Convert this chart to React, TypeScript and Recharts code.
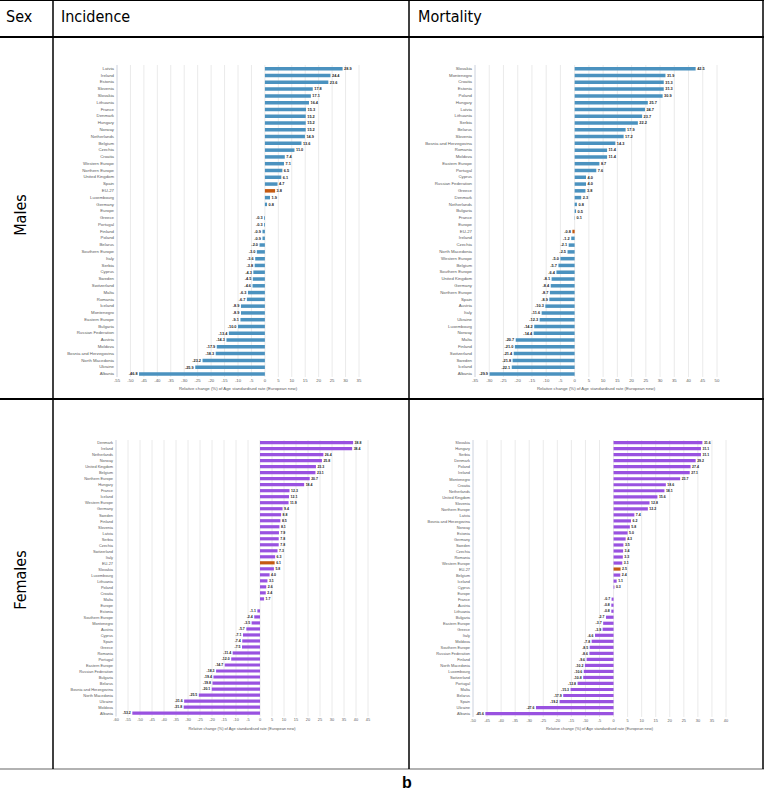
import { BarChart, Bar, XAxis, YAxis, CartesianGrid, Cell, LabelList } from "recharts";

// Males, incidence
const maleIncNames = ["Latvia", "Ireland", "Estonia", "Slovenia", "Slovakia", "Lithuania", "France", "Denmark", "Hungary", "Norway", "Netherlands", "Belgium", "Czechia", "Croatia", "Western Europe", "Northern Europe", "United Kingdom", "Spain", "EU-27", "Luxembourg", "Germany", "Europe", "Greece", "Portugal", "Finland", "Poland", "Belarus", "Southern Europe", "Italy", "Serbia", "Cyprus", "Sweden", "Switzerland", "Malta", "Romania", "Iceland", "Montenegro", "Eastern Europe", "Bulgaria", "Russian Federation", "Austria", "Moldova", "Bosnia and Herzegovina", "North Macedonia", "Ukraine", "Albania"];
const maleIncValues = [28.9, 24.4, 23.6, 17.8, 17.1, 16.4, 15.3, 15.2, 15.2, 15.2, 14.9, 13.6, 11.0, 7.4, 7.1, 6.5, 6.1, 4.7, 3.8, 1.9, 0.8, 0.0, -0.3, -0.3, -0.9, -0.9, -2.0, -3.0, -3.6, -3.8, -4.3, -4.5, -4.6, -6.3, -6.7, -8.9, -8.9, -9.1, -10.0, -13.4, -14.3, -17.9, -18.3, -23.2, -25.9, -46.8];
const maleIncTicks = [-55, -50, -45, -40, -35, -30, -25, -20, -15, -10, -5, 0, 5, 10, 15, 20, 25, 30, 35];

// Males, mortality
const maleMortNames = ["Slovakia", "Montenegro", "Croatia", "Estonia", "Poland", "Hungary", "Latvia", "Lithuania", "Serbia", "Belarus", "Slovenia", "Bosnia and Herzegovina", "Romania", "Moldova", "Eastern Europe", "Portugal", "Cyprus", "Russian Federation", "Greece", "Denmark", "Netherlands", "Bulgaria", "France", "Europe", "EU-27", "Ireland", "Czechia", "North Macedonia", "Western Europe", "Belgium", "Southern Europe", "United Kingdom", "Germany", "Northern Europe", "Spain", "Austria", "Italy", "Ukraine", "Luxembourg", "Norway", "Malta", "Finland", "Switzerland", "Sweden", "Iceland", "Albania"];
const maleMortValues = [42.5, 31.9, 31.3, 31.3, 30.9, 25.7, 24.7, 23.7, 22.2, 17.9, 17.2, 14.3, 11.4, 11.4, 8.7, 7.6, 4.0, 4.0, 3.8, 2.3, 0.8, 0.5, 0.1, 0.0, -0.8, -1.2, -2.1, -2.5, -5.0, -5.7, -6.4, -8.1, -8.4, -8.7, -8.9, -10.3, -11.6, -12.3, -14.2, -14.4, -20.7, -21.0, -21.4, -21.8, -22.1, -29.9];
const maleMortTicks = [-35, -30, -25, -20, -15, -10, -5, 0, 5, 10, 15, 20, 25, 30, 35, 40, 45, 50];

// Females, incidence
const femIncNames = ["Denmark", "Ireland", "Netherlands", "Norway", "United Kingdom", "Belgium", "Northern Europe", "Hungary", "France", "Iceland", "Western Europe", "Germany", "Sweden", "Finland", "Slovenia", "Latvia", "Serbia", "Czechia", "Switzerland", "Italy", "EU-27", "Slovakia", "Luxembourg", "Lithuania", "Poland", "Croatia", "Malta", "Europe", "Estonia", "Southern Europe", "Montenegro", "Austria", "Cyprus", "Spain", "Greece", "Romania", "Portugal", "Eastern Europe", "Russian Federation", "Bulgaria", "Belarus", "Bosnia and Herzegovina", "North Macedonia", "Ukraine", "Moldova", "Albania"];
const femIncValues = [38.8, 38.4, 26.4, 25.8, 23.3, 23.1, 20.7, 18.4, 12.3, 12.1, 11.9, 9.4, 8.8, 8.5, 8.1, 7.9, 7.8, 7.8, 7.3, 6.3, 6.1, 5.8, 4.0, 3.1, 2.6, 2.4, 1.7, 0.0, -1.1, -2.4, -3.5, -5.7, -7.1, -7.4, -7.5, -11.4, -12.0, -14.7, -18.3, -19.4, -19.8, -20.1, -25.5, -31.6, -31.8, -53.2];
const femIncTicks = [-60, -55, -50, -45, -40, -35, -30, -25, -20, -15, -10, -5, 0, 5, 10, 15, 20, 25, 30, 35, 40, 45];

// Females, mortality
const femMortNames = ["Slovakia", "Hungary", "Serbia", "Denmark", "Poland", "Ireland", "Montenegro", "Croatia", "Netherlands", "United Kingdom", "Slovenia", "Northern Europe", "Latvia", "Bosnia and Herzegovina", "Norway", "Estonia", "Germany", "Sweden", "Czechia", "Romania", "Western Europe", "EU-27", "Belgium", "Iceland", "Cyprus", "Europe", "France", "Austria", "Lithuania", "Bulgaria", "Eastern Europe", "Greece", "Italy", "Moldova", "Southern Europe", "Russian Federation", "Finland", "North Macedonia", "Luxembourg", "Switzerland", "Portugal", "Malta", "Belarus", "Spain", "Ukraine", "Albania"];
const femMortValues = [31.6, 31.1, 31.1, 29.2, 27.4, 27.1, 23.7, 18.6, 18.1, 15.6, 12.8, 12.2, 7.4, 6.2, 5.8, 5.0, 4.3, 3.5, 3.4, 3.3, 3.1, 2.5, 2.4, 1.1, 0.3, 0.0, -0.7, -0.8, -0.8, -2.7, -3.7, -3.9, -6.6, -7.8, -8.5, -8.6, -9.6, -10.2, -10.6, -10.8, -12.8, -15.3, -17.9, -19.2, -27.6, -45.6];
const femMortTicks = [-50, -45, -40, -35, -30, -25, -20, -15, -10, -5, 0, 5, 10, 15, 20, 25, 30, 35, 40];

const axisTitle = "Relative change (%) of Age standardised rate (European new)";
const MALE_BLUE = "#4b92bf";
const FEMALE_PURPLE = "#9952e0";
const EU_ORANGE = "#c55a11";

type PlotBox = { x0: number; x1: number; y0: number; y1: number };

const makeLabel = (fs: number) => (props: any) => {
  const { x, y, width, height, value } = props;
  const bx = Number(x);
  const bw = Number(width);
  const l = Math.min(bx, bx + bw);
  const r = Math.max(bx, bx + bw);
  const neg = Number(value) < 0;
  return (
    <text
      x={neg ? l - 1.5 : r + 1.5}
      y={Number(y) + Number(height) / 2}
      dy="0.35em"
      textAnchor={neg ? "end" : "start"}
      fontSize={fs}
      fontWeight="bold"
      fill="#222"
    >
      {Number(value).toFixed(1)}
    </text>
  );
};

// plain svg text so long country names don't wrap
const makeCatTick = (fs: number) => (props: any) => {
  const { x, y, payload } = props;
  return (
    <text x={x} y={y} dy="0.35em" textAnchor="end" fontSize={fs} fill="#595959">
      {payload.value}
    </text>
  );
};

function Panel({
  names,
  values,
  ticks,
  color,
  plot,
  fs,
  barSize,
}: {
  names: string[];
  values: number[];
  ticks: number[];
  color: string;
  plot: PlotBox;
  fs: number;
  barSize: number;
}) {
  const data = names.map((name, i) => ({ name, value: values[i] }));
  const yW = 75;
  const left = plot.x0 - yW;
  const top = plot.y0 - 5;
  const width = plot.x1 + 25 - left;
  const height = plot.y1 + 25 - top;
  return (
    <div style={{ position: "absolute", left, top }}>
      <BarChart
        width={width}
        height={height}
        data={data}
        layout="vertical"
        margin={{ top: 5, right: 25, bottom: 0, left: 0 }}
        barSize={barSize}
      >
        <CartesianGrid horizontal={false} stroke="#e4e4e4" strokeWidth={0.8} />
        <XAxis
          type="number"
          domain={[ticks[0], ticks[ticks.length - 1]]}
          ticks={ticks}
          interval={0}
          height={25}
          tickSize={0}
          tickMargin={2}
          tickLine={false}
          axisLine={false}
          tick={{ fontSize: fs, fill: "#595959" }}
          label={{ value: axisTitle, position: "insideBottom", offset: 12, fontSize: fs, fill: "#595959" }}
        />
        <YAxis
          type="category"
          dataKey="name"
          width={yW}
          interval={0}
          tickSize={0}
          tickMargin={3}
          tickLine={false}
          axisLine={{ stroke: "#cfd7e6", strokeWidth: 0.8 }}
          tick={makeCatTick(fs)}
        />
        <Bar dataKey="value" isAnimationActive={false} fill={color}>
          {data.map((d) => (
            <Cell key={d.name} fill={d.name === "EU-27" ? EU_ORANGE : color} />
          ))}
          <LabelList dataKey="value" content={makeLabel(fs * 0.9)} />
        </Bar>
      </BarChart>
    </div>
  );
}

export default function App() {
  const tableFont = "'Liberation Sans Narrow', 'DejaVu Sans Condensed', 'Liberation Sans', sans-serif";
  return (
    <div
      style={{
        position: "absolute",
        left: 0,
        top: 0,
        width: 764,
        height: 792,
        background: "#fff",
        fontFamily: "'Liberation Sans', Arial, sans-serif",
      }}
    >
      <svg width={764} height={792} style={{ position: "absolute", left: 0, top: 0 }}>
        <line x1={0} y1={0.5} x2={764} y2={0.5} stroke="#000" strokeWidth={1.2} />
        <line x1={0} y1={37} x2={764} y2={37} stroke="#000" strokeWidth={2} />
        <line x1={0} y1={399} x2={764} y2={399} stroke="#000" strokeWidth={2} />
        <line x1={0} y1={769} x2={764} y2={769} stroke="#666" strokeWidth={1.2} />
        <line x1={53} y1={0} x2={53} y2={769} stroke="#000" strokeWidth={1.5} />
        <line x1={409} y1={0} x2={409} y2={769} stroke="#000" strokeWidth={1.5} />
        <line x1={763} y1={0} x2={763} y2={769} stroke="#000" strokeWidth={1.5} />
        <g fontFamily={tableFont} fontSize={16} fill="#000">
          <text x={6} y={22}>Sex</text>
          <text x={61} y={22}>Incidence</text>
          <text x={418} y={22}>Mortality</text>
          <text x={26} y={215} transform="rotate(-90 26 215)" textAnchor="middle">Males</text>
          <text x={26} y={580} transform="rotate(-90 26 580)" textAnchor="middle">Females</text>
        </g>
        <text x={407} y={788} textAnchor="middle" fontSize={16} fontWeight="bold" fontFamily="'Liberation Sans', Arial, sans-serif">b</text>
      </svg>
      <Panel
        names={maleIncNames}
        values={maleIncValues}
        ticks={maleIncTicks}
        color={MALE_BLUE}
        plot={{ x0: 117, x1: 359, y0: 65, y1: 377 }}
        fs={4.3}
        barSize={3.5}
      />
      <Panel
        names={maleMortNames}
        values={maleMortValues}
        ticks={maleMortTicks}
        color={MALE_BLUE}
        plot={{ x0: 475, x1: 717, y0: 65, y1: 377 }}
        fs={4.3}
        barSize={3.5}
      />
      <Panel
        names={femIncNames}
        values={femIncValues}
        ticks={femIncTicks}
        color={FEMALE_PURPLE}
        plot={{ x0: 116, x1: 368, y0: 440, y1: 716.5 }}
        fs={3.9}
        barSize={3.2}
      />
      <Panel
        names={femMortNames}
        values={femMortValues}
        ticks={femMortTicks}
        color={FEMALE_PURPLE}
        plot={{ x0: 473, x1: 726, y0: 440, y1: 717 }}
        fs={3.9}
        barSize={3.2}
      />
    </div>
  );
}
